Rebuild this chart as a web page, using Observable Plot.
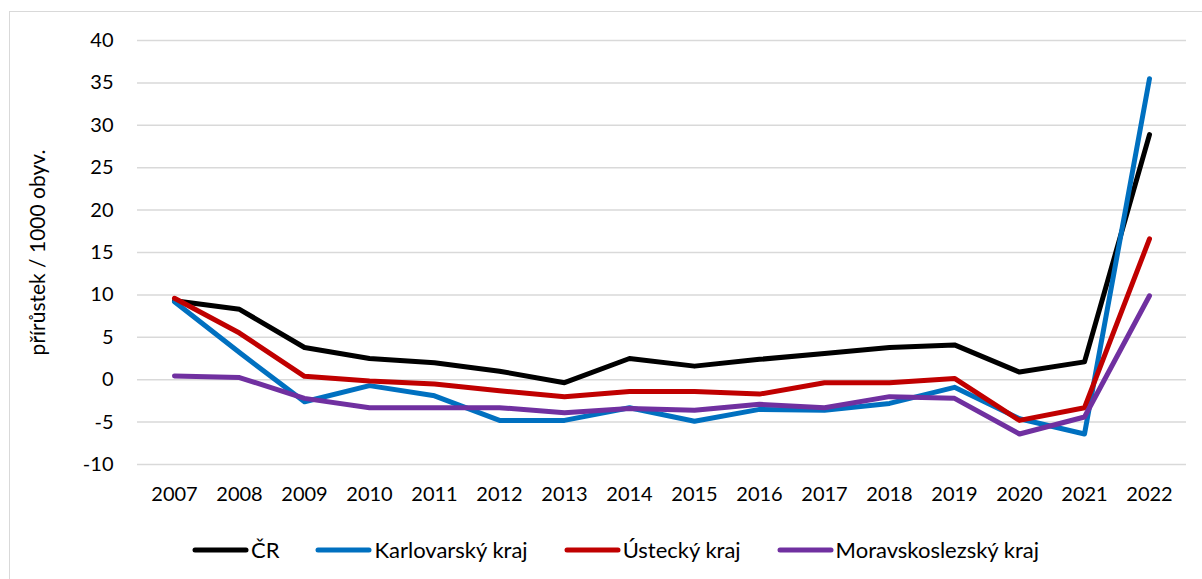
<!DOCTYPE html>
<html>
<head>
<meta charset="utf-8">
<script src="https://cdn.jsdelivr.net/npm/d3@7"></script>
<script src="https://cdn.jsdelivr.net/npm/@observablehq/plot@0.6"></script>
<style>
  html, body { margin: 0; padding: 0; background: #fff; }
  body { width: 1202px; height: 579px; position: relative; overflow: hidden; font-family: Lato, "Open Sans", sans-serif; }
  #frame { position: absolute; left: 9px; top: 11px; width: 1220px; height: 600px; border: 1px solid #d9d9d9; box-sizing: border-box; }
  #chart { position: absolute; left: 0; top: 0; }
  #legend { position: absolute; left: 192px; top: 536px; display: flex; align-items: center; gap: 36px; font-size: 22px; color: #000; }
  .item { display: flex; align-items: center; gap: 2px; }
</style>
</head>
<body>
<div id="frame"></div>
<div id="chart"></div>
<div id="legend"></div>
<script>
const years = ["2007","2008","2009","2010","2011","2012","2013","2014","2015","2016","2017","2018","2019","2020","2021","2022"];
const seriesNames = ["ČR", "Karlovarský kraj", "Ústecký kraj", "Moravskoslezský kraj"];
const seriesColors = ["#000000", "#0070C0", "#C00000", "#7030A0"];
const cr = [9.3, 8.3, 3.8, 2.5, 2.0, 1.0, -0.35, 2.5, 1.6, 2.4, 3.1, 3.8, 4.1, 0.9, 2.1, 28.9];
const karlovarsky = [9.2, 3.2, -2.6, -0.7, -1.9, -4.8, -4.8, -3.3, -4.9, -3.5, -3.6, -2.8, -0.9, -4.6, -6.4, 35.5];
const ustecky = [9.6, 5.5, 0.4, -0.15, -0.5, -1.3, -2.0, -1.4, -1.4, -1.7, -0.35, -0.35, 0.15, -4.8, -3.3, 16.6];
const moravskoslezsky = [0.45, 0.25, -2.2, -3.3, -3.3, -3.3, -3.9, -3.4, -3.6, -2.9, -3.3, -2.0, -2.2, -6.4, -4.4, 9.9];
const yTicks = [-10, -5, 0, 5, 10, 15, 20, 25, 30, 35, 40];
const yLabel = "přírůstek / 1000 obyv.";

const seriesValues = [cr, karlovarsky, ustecky, moravskoslezsky];
const data = seriesNames.flatMap((name, i) => years.map((year, j) => ({series: name, year, value: seriesValues[i][j]})));

const chart = Plot.plot({
  width: 1202,
  height: 520,
  marginLeft: 137,
  marginRight: 16,
  marginTop: 40,
  marginBottom: 56,
  style: {fontFamily: "Lato, 'Open Sans', sans-serif", fontSize: "20px", color: "#000", background: "transparent"},
  x: {type: "point", domain: years, padding: 0.5},
  y: {domain: [-10, 40]},
  color: {domain: seriesNames, range: seriesColors},
  marks: [
    Plot.gridY(yTicks, {stroke: "#d9d9d9", strokeOpacity: 1, strokeWidth: 1.5}),
    Plot.axisY(yTicks, {tickSize: 0, tickPadding: 24, tickFormat: d => String(d), label: yLabel, labelAnchor: "center", labelArrow: "none", labelOffset: 107, fontSize: 20}),
    Plot.axisX(years, {tickSize: 0, tickPadding: 22, label: null, fontSize: 20}),
    Plot.line(data, {x: "year", y: "value", z: "series", stroke: "series", strokeWidth: 5, strokeLinejoin: "round", strokeLinecap: "round"})
  ]
});
chart.querySelectorAll("g[aria-label='y-axis label'] text").forEach(t => t.style.fontSize = "21px");
document.getElementById("chart").appendChild(chart);

const legend = document.getElementById("legend");
seriesNames.forEach((name, i) => {
  const item = document.createElement("div");
  item.className = "item";
  item.innerHTML = `<svg width="57" height="10"><line x1="3" y1="5" x2="54" y2="5" stroke="${seriesColors[i]}" stroke-width="5" stroke-linecap="round"/></svg><span>${name}</span>`;
  legend.appendChild(item);
});
</script>
</body>
</html>
